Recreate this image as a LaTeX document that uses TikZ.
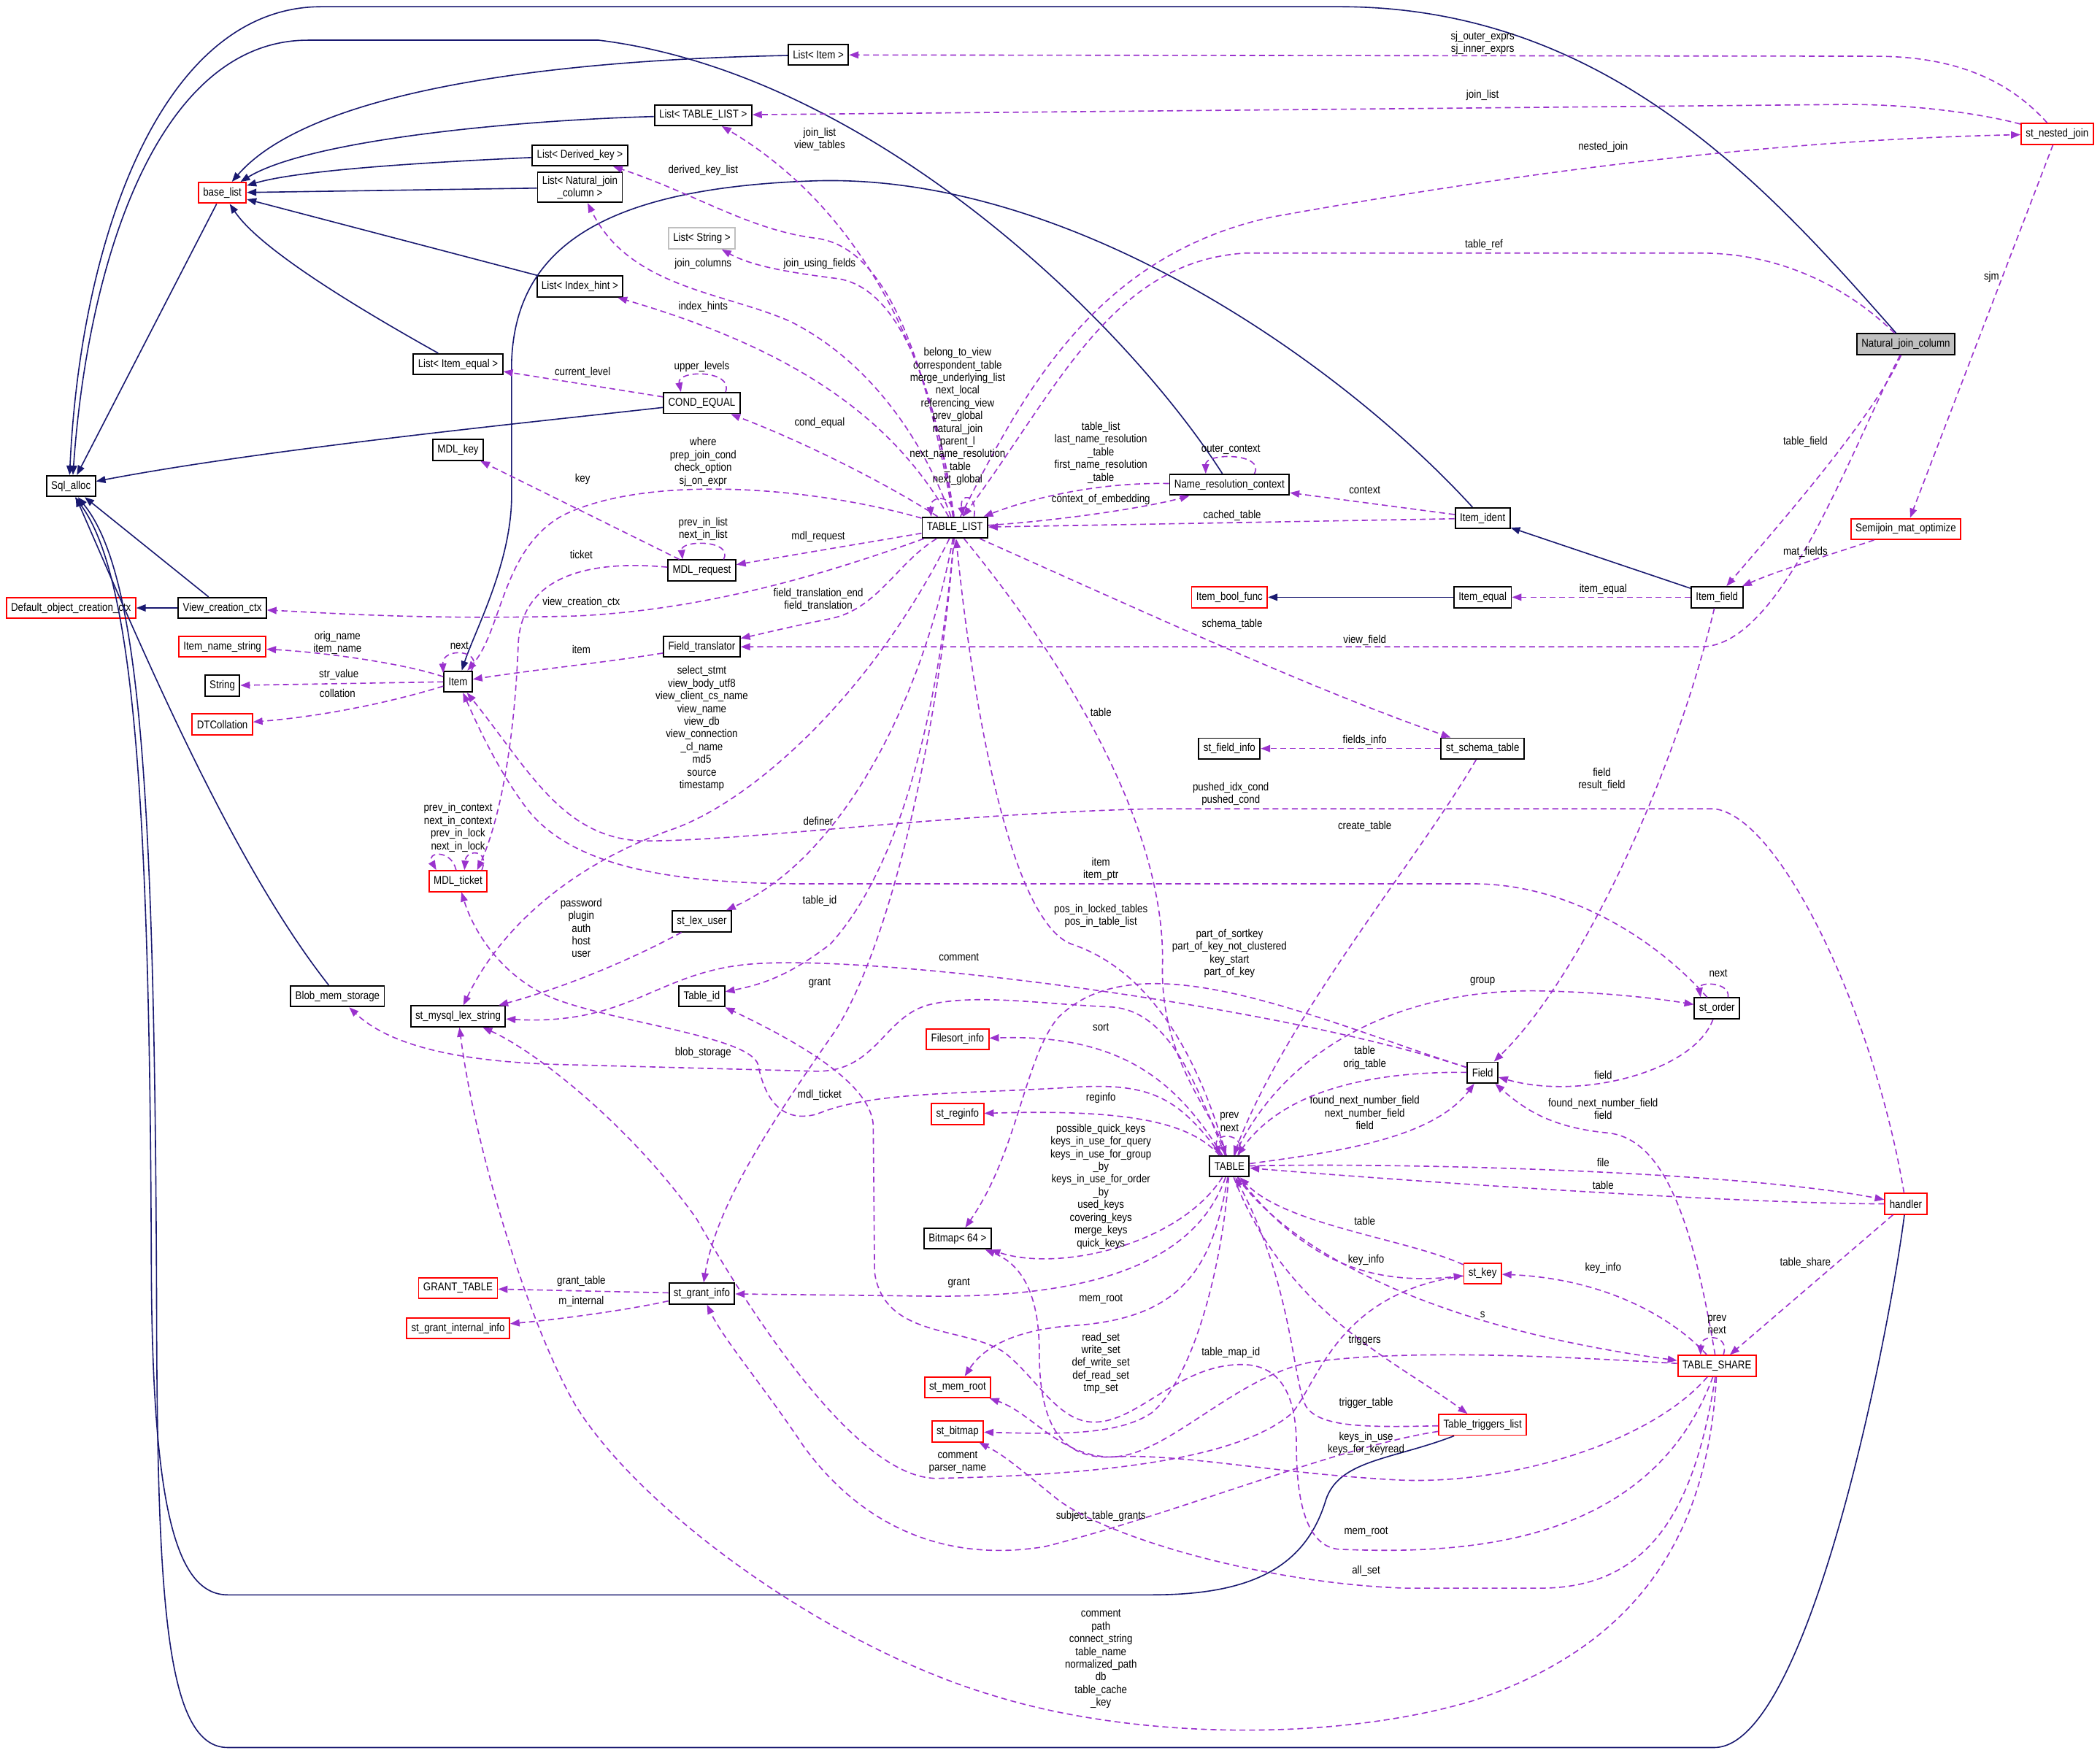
\documentclass[tikz,border=0pt]{standalone}
\usepackage{fontspec}
\setmainfont{Liberation Sans}[FakeStretch=0.86]
\usepackage{tikz}
\usetikzlibrary{arrows.meta}
\definecolor{usagepurple}{RGB}{154,50,205}
\definecolor{inheritblue}{RGB}{25,25,112}
\definecolor{undocred}{RGB}{255,0,0}
\definecolor{grayedge}{RGB}{191,191,191}
\tikzset{
  classbox/.style={rectangle, draw=black, line width=0.6pt, fill=white,
    inner xsep=0.07cm, inner ysep=0pt, minimum height=0.31cm,
    font=\fontsize{4.8}{5.4}\selectfont},
  undocbox/.style={classbox, draw=undocred},
  grayedbox/.style={classbox, draw=grayedge},
  focusbox/.style={classbox, fill=grayedge},
  inherit/.style={draw=inheritblue, line width=0.5pt,
    -{Triangle[length=4pt,width=3pt]}},
  usage/.style={draw=usagepurple, line width=0.5pt,
    dash pattern=on 2.5pt off 1.6pt, -{Triangle[length=4pt,width=3pt]}},
  lbl/.style={align=center, inner sep=0pt, font=\fontsize{4.8}{5.4}\selectfont}
}

\begin{document}
\begin{tikzpicture}[x=0.02cm, y=-0.02cm]
\useasboundingbox (0,0) rectangle (1568,1309);

\node (sqlalloc)  [classbox]  at (53,363)   {Sql\_alloc};
\node (baselist)  [undocbox]  at (166,144)  {base\_list};
\node (listitem)  [classbox]  at (611,41)   {List< Item >};
\node (listtl)    [classbox]  at (525,86)   {List< TABLE\_LIST >};
\node (listdk)    [classbox]  at (433,116)  {List< Derived\_key >};
\node (listnjc)   [classbox, align=center, inner ysep=0.05cm] at (433,140) {List< Natural\_join\\\_column >};
\node (liststr)   [grayedbox] at (524,178)  {List< String >};
\node (listih)    [classbox]  at (433,214)  {List< Index\_hint >};
\node (listie)    [classbox]  at (342,272)  {List< Item\_equal >};
\node (condeq)    [classbox]  at (524,301)  {COND\_EQUAL};
\node (mdlkey)    [classbox]  at (342,336)  {MDL\_key};
\node (mdlreq)    [classbox]  at (524,426)  {MDL\_request};
\node (tablelist) [classbox]  at (713,394)  {TABLE\_LIST};
\node (nrc)       [classbox]  at (918,362)  {Name\_resolution\_context};
\node (itemident) [classbox]  at (1107,387) {Item\_ident};
\node (njc)       [focusbox]  at (1423,257) {Natural\_join\_column};
\node (nestjoin)  [undocbox]  at (1536,100) {st\_nested\_join};
\node (sjmat)     [undocbox]  at (1423,395) {Semijoin\_mat\_optimize};
\node (itemfield) [classbox]  at (1282,446) {Item\_field};
\node (itemequal) [classbox]  at (1107,446) {Item\_equal};
\node (boolfunc)  [undocbox]  at (918,446)  {Item\_bool\_func};
\node (ftrans)    [classbox]  at (524,483)  {Field\_translator};
\node (item)      [classbox]  at (342,509)  {Item};
\node (namestr)   [undocbox]  at (166,483)  {Item\_name\_string};
\node (string)    [classbox]  at (166,512)  {String};
\node (dtcoll)    [undocbox]  at (166,541)  {DTCollation};
\node (defctx)    [undocbox]  at (53,454)   {Default\_object\_creation\_ctx};
\node (viewctx)   [classbox]  at (166,454)  {View\_creation\_ctx};
\node (mdlticket) [undocbox]  at (342,658)  {MDL\_ticket};
\node (lexuser)   [classbox]  at (524,688)  {st\_lex\_user};
\node (blobmem)   [classbox]  at (252,744)  {Blob\_mem\_storage};
\node (lexstr)    [classbox]  at (342,759)  {st\_mysql\_lex\_string};
\node (tableid)   [classbox]  at (524,744)  {Table\_id};
\node (fieldinfo) [classbox]  at (918,559)  {st\_field\_info};
\node (schema)    [classbox]  at (1107,559) {st\_schema\_table};
\node (filesort)  [undocbox]  at (715,776)  {Filesort\_info};
\node (reginfo)   [undocbox]  at (715,832)  {st\_reginfo};
\node (field)     [classbox]  at (1107,801) {Field};
\node (order)     [classbox]  at (1282,753) {st\_order};
\node (table)     [classbox]  at (918,871)  {TABLE};
\node (bitmap)    [classbox]  at (715,925)  {Bitmap< 64 >};
\node (handler)   [undocbox]  at (1423,899) {handler};
\node (key)       [undocbox]  at (1107,951) {st\_key};
\node (share)     [undocbox]  at (1282,1020) {TABLE\_SHARE};
\node (granttab)  [undocbox]  at (342,962)  {GRANT\_TABLE};
\node (grantinfo) [classbox]  at (524,966)  {st\_grant\_info};
\node (grantint)  [undocbox]  at (342,992)  {st\_grant\_internal\_info};
\node (memroot)   [undocbox]  at (715,1036) {st\_mem\_root};
\node (stbitmap)  [undocbox]  at (715,1069) {st\_bitmap};
\node (triggers)  [undocbox]  at (1107,1064) {Table\_triggers\_list};

\draw[inherit] (baselist) -- (sqlalloc.62);
\draw[inherit] (listitem) .. controls (400,45) and (230,70) .. (baselist);
\draw[inherit] (listtl) .. controls (380,90) and (230,105) .. (baselist);
\draw[inherit] (listdk) .. controls (300,122) and (220,128) .. (baselist);
\draw[inherit] (listnjc) -- (baselist);
\draw[inherit] (listih) -- (baselist);
\draw[inherit] (listie) .. controls (240,215) and (190,180) .. (baselist);
\draw[inherit] (condeq) .. controls (400,315) and (200,335) .. (sqlalloc);
\draw[inherit] (viewctx) -- (sqlalloc);
\draw[inherit] (viewctx) -- (defctx);
\draw[inherit] (blobmem) .. controls (170,640) and (100,470) .. (sqlalloc);
\draw[inherit] (njc) .. controls (1320,140) and (1200,5) .. (1000,5) -- (240,5)
  .. controls (120,5) and (60,180) .. (sqlalloc.97);
\draw[inherit] (nrc) .. controls (840,240) and (650,55) .. (447,30) -- (230,30)
  .. controls (120,30) and (66,190) .. (sqlalloc.80);
\draw[inherit] (itemident) .. controls (1000,270) and (800,130) .. (610,135)
  .. controls (450,140) and (385,185) .. (382,270) -- (382,370)
  .. controls (382,420) and (355,470) .. (item);
\draw[inherit] (itemfield) -- (itemident);
\draw[inherit] (itemequal) -- (boolfunc);
\draw[inherit] (triggers) .. controls (1040,1090) and (1000,1090) .. (990,1120)
  .. controls (975,1170) and (935,1191) .. (860,1191) -- (170,1191)
  .. controls (130,1191) and (114,1120) .. (113,950)
  .. controls (112,600) and (100,430) .. (sqlalloc.-70);
\draw[inherit] (handler) .. controls (1410,1000) and (1350,1305) .. (1280,1305) -- (170,1305)
  .. controls (125,1305) and (118,1200) .. (117,1000)
  .. controls (116,600) and (106,430) .. (sqlalloc.-58);

\draw[usage] (tablelist) .. controls (700,280) and (650,160) .. (listtl)
  node[lbl] at (612,104) {join\_list\\view\_tables};
\draw[usage] (tablelist) .. controls (690,260) and (660,185) .. (610,178)
  .. controls (560,172) and (520,145) .. (listdk)
  node[lbl] at (525,127) {derived\_key\_list};
\draw[usage] (tablelist) .. controls (690,330) and (650,270) .. (590,240)
  .. controls (540,218) and (470,215) .. (listnjc)
  node[lbl] at (525,197) {join\_columns};
\draw[usage] (tablelist) .. controls (700,300) and (675,215) .. (625,208)
  .. controls (585,203) and (560,198) .. (liststr)
  node[lbl] at (612,197) {join\_using\_fields};
\draw[usage] (tablelist) .. controls (665,310) and (590,260) .. (listih)
  node[lbl] at (525,229) {index\_hints};
\draw[usage] (tablelist) .. controls (660,360) and (600,330) .. (condeq)
  node[lbl] at (612,316) {cond\_equal};
\draw[usage] (condeq.25) .. controls (548,276) and (505,276) .. (condeq.152)
  node[lbl] at (524,274) {upper\_levels};
\draw[usage] (condeq) -- (listie)
  node[lbl] at (435,278) {current\_level};
\draw[usage] (tablelist) .. controls (600,362) and (480,355) .. (420,385)
  .. controls (375,410) and (375,470) .. (item)
  node[lbl] at (525,345) {where\\prep\_join\_cond\\check\_option\\sj\_on\_expr};
\draw[usage] (tablelist) -- (mdlreq)
  node[lbl] at (611,401) {mdl\_request};
\draw[usage] (mdlreq.27) .. controls (548,403) and (508,403) .. (mdlreq.150)
  node[lbl] at (525,395) {prev\_in\_list\\next\_in\_list};
\draw[usage] (mdlreq) -- (mdlkey)
  node[lbl] at (435,358) {key};
\draw[usage] (mdlreq) .. controls (440,418) and (390,430) .. (387,480)
  .. controls (384,560) and (372,615) .. (mdlticket.30)
  node[lbl] at (434,414) {ticket};
\draw[usage] (mdlticket.100) .. controls (337,634) and (318,636) .. (mdlticket.153);
\draw[usage] (mdlticket.25) .. controls (366,634) and (348,634) .. (mdlticket.60)
  node[lbl] at (342,618) {prev\_in\_context\\next\_in\_context\\prev\_in\_lock\\next\_in\_lock};
\draw[usage] (table) .. controls (880,820) and (860,808) .. (800,812)
  .. controls (720,817) and (650,815) .. (610,832)
  .. controls (580,840) and (570,815) .. (566,795)
  .. controls (560,775) and (470,765) .. (420,748)
  .. controls (380,735) and (355,700) .. (mdlticket)
  node[lbl] at (612,818) {mdl\_ticket};
\draw[usage] (tablelist) .. controls (640,420) and (540,455) .. (430,460)
  .. controls (320,463) and (250,458) .. (viewctx)
  node[lbl] at (434,450) {view\_creation\_ctx};
\draw[usage] (tablelist) .. controls (670,420) and (655,455) .. (620,462)
  .. controls (590,468) and (570,473) .. (ftrans)
  node[lbl] at (611,448) {field\_translation\_end\\field\_translation};
\draw[usage] (njc) .. controls (1380,340) and (1330,483) .. (1270,483) -- (ftrans)
  node[lbl] at (1019,478) {view\_field};
\draw[usage] (njc) .. controls (1380,215) and (1330,189) .. (1270,189) -- (930,189)
  .. controls (830,195) and (790,290) .. (tablelist)
  node[lbl] at (1108,183) {table\_ref};
\draw[usage] (tablelist) .. controls (765,290) and (820,190) .. (950,162)
  .. controls (1100,135) and (1300,105) .. (nestjoin)
  node[lbl] at (1197,110) {nested\_join};
\draw[usage] (nestjoin) .. controls (1500,60) and (1460,42) .. (1400,42) -- (listitem)
  node[lbl] at (1107,32) {sj\_outer\_exprs\\sj\_inner\_exprs};
\draw[usage] (nestjoin) .. controls (1480,85) and (1430,78) .. (1380,78) -- (listtl)
  node[lbl] at (1107,71) {join\_list};
\draw[usage] (nestjoin) -- (sjmat)
  node[lbl] at (1487,207) {sjm};
\draw[usage] (sjmat) .. controls (1380,410) and (1330,425) .. (itemfield)
  node[lbl] at (1348,412) {mat\_fields};
\draw[usage] (njc) .. controls (1400,310) and (1330,390) .. (itemfield)
  node[lbl] at (1348,330) {table\_field};
\draw[usage] (itemfield) -- (itemequal)
  node[lbl] at (1197,440) {item\_equal};
\draw[usage] (itemfield) .. controls (1250,580) and (1180,730) .. (field)
  node[lbl] at (1196,582) {field\\result\_field};
\draw[usage] (itemident) -- (tablelist)
  node[lbl] at (920,385) {cached\_table};
\draw[usage] (itemident) -- (nrc)
  node[lbl] at (1019,366) {context};
\draw[usage] (nrc.24) .. controls (945,338) and (900,338) .. (nrc.155)
  node[lbl] at (919,336) {outer\_context};
\draw[usage] (nrc) .. controls (820,360) and (770,372) .. (tablelist)
  node[lbl] at (822,338) {table\_list\\last\_name\_resolution\\\_table\\first\_name\_resolution\\\_table};
\draw[usage] (tablelist) .. controls (800,388) and (860,378) .. (nrc)
  node[lbl] at (822,373) {context\_of\_embedding};
\draw[usage] (tablelist.95) .. controls (712,368) and (694,370) .. (tablelist.155);
\draw[usage] (tablelist.30) .. controls (730,368) and (716,368) .. (tablelist.53)
  node[lbl] at (715,311) {belong\_to\_view\\correspondent\_table\\merge\_underlying\_list\\next\_local\\referencing\_view\\prev\_global\\natural\_join\\parent\_l\\next\_name\_resolution\\\_table\\next\_global};
\draw[usage] (tablelist) .. controls (850,455) and (980,515) .. (schema)
  node[lbl] at (920,466) {schema\_table};
\draw[usage] (schema) -- (fieldinfo)
  node[lbl] at (1019,553) {fields\_info};
\draw[usage] (schema) .. controls (1060,640) and (960,760) .. (table)
  node[lbl] at (1019,617) {create\_table};
\draw[usage] (tablelist) .. controls (800,500) and (870,620) .. (868,720)
  .. controls (866,790) and (905,830) .. (table)
  node[lbl] at (822,532) {table};
\draw[usage] (table) .. controls (895,790) and (860,725) .. (800,705)
  .. controls (760,690) and (730,560) .. (tablelist)
  node[lbl] at (822,684) {pos\_in\_locked\_tables\\pos\_in\_table\_list};
\draw[usage] (tablelist) .. controls (650,520) and (560,600) .. (500,620)
  .. controls (430,645) and (375,690) .. (lexstr)
  node[lbl] at (524,544) {select\_stmt\\view\_body\_utf8\\view\_client\_cs\_name\\view\_name\\view\_db\\view\_connection\\\_cl\_name\\md5\\source\\timestamp};
\draw[usage] (tablelist) .. controls (690,520) and (630,640) .. (lexuser)
  node[lbl] at (611,613) {definer};
\draw[usage] (tablelist) .. controls (700,540) and (670,650) .. (620,705)
  .. controls (590,728) and (570,735) .. (tableid)
  node[lbl] at (612,673) {table\_id};
\draw[usage] (tablelist) .. controls (700,560) and (660,720) .. (620,775)
  .. controls (575,840) and (535,900) .. (grantinfo)
  node[lbl] at (612,734) {grant};
\draw[usage] (field) .. controls (950,750) and (650,712) .. (560,720)
  .. controls (490,726) and (470,766) .. (lexstr)
  node[lbl] at (716,715) {comment};
\draw[usage] (field) .. controls (980,760) and (850,700) .. (790,760)
  .. controls (765,790) and (760,860) .. (bitmap)
  node[lbl] at (918,712) {part\_of\_sortkey\\part\_of\_key\_not\_clustered\\key\_start\\part\_of\_key};
\draw[usage] (table) .. controls (880,810) and (840,772) .. (filesort)
  node[lbl] at (822,767) {sort};
\draw[usage] (table) .. controls (890,840) and (850,828) .. (reginfo)
  node[lbl] at (822,820) {reginfo};
\draw[usage] (table.50) .. controls (932,845) and (904,845) .. (table.130)
  node[lbl] at (918,838) {prev\\next};
\draw[usage] (table) .. controls (880,930) and (790,950) .. (bitmap)
  node[lbl] at (822,886) {possible\_quick\_keys\\keys\_in\_use\_for\_query\\keys\_in\_use\_for\_group\\\_by\\keys\_in\_use\_for\_order\\\_by\\used\_keys\\covering\_keys\\merge\_keys\\quick\_keys};
\draw[usage] (table) .. controls (890,950) and (800,968) .. (700,968) -- (grantinfo)
  node[lbl] at (716,958) {grant};
\draw[usage] (table) .. controls (905,950) and (880,985) .. (800,990)
  .. controls (760,993) and (735,1005) .. (memroot)
  node[lbl] at (822,970) {mem\_root};
\draw[usage] (table) .. controls (912,950) and (890,1030) .. (860,1055)
  .. controls (835,1072) and (790,1071) .. (stbitmap)
  node[lbl] at (822,1018) {read\_set\\write\_set\\def\_write\_set\\def\_read\_set\\tmp\_set};
\draw[usage] (table) .. controls (1050,868) and (1300,875) .. (handler)
  node[lbl] at (1197,868) {file};
\draw[usage] (handler) .. controls (1300,899) and (1050,882) .. (table)
  node[lbl] at (1197,885) {table};
\draw[usage] (table) .. controls (960,780) and (1050,738) .. (1150,740)
  .. controls (1200,741) and (1240,746) .. (order)
  node[lbl] at (1107,733) {group};
\draw[usage] (order.45) .. controls (1292,733) and (1268,733) .. (order.146)
  node[lbl] at (1283,727) {next};
\draw[usage] (order) .. controls (1265,800) and (1180,822) .. (field)
  node[lbl] at (1197,803) {field};
\draw[usage] (order) .. controls (1235,700) and (1170,660) .. (1100,660) -- (600,660)
  .. controls (480,660) and (420,640) .. (392,602)
  .. controls (372,575) and (358,545) .. (item)
  node[lbl] at (822,649) {item\\item\_ptr};
\draw[usage] (handler) .. controls (1400,760) and (1330,610) .. (1280,604) -- (860,604)
  .. controls (700,608) and (560,628) .. (480,628)
  .. controls (420,626) and (395,575) .. (item)
  node[lbl] at (919,593) {pushed\_idx\_cond\\pushed\_cond};
\draw[usage] (table) .. controls (1000,860) and (1070,850) .. (field)
  node[lbl] at (1019,831) {found\_next\_number\_field\\next\_number\_field\\field};
\draw[usage] (field) .. controls (1030,800) and (960,812) .. (table)
  node[lbl] at (1019,790) {table\\orig\_table};
\draw[usage] (share) .. controls (1265,920) and (1245,850) .. (1200,846)
  .. controls (1160,842) and (1140,830) .. (field)
  node[lbl] at (1197,828) {found\_next\_number\_field\\field};
\draw[usage] (share.60) .. controls (1292,996) and (1270,996) .. (share.146)
  node[lbl] at (1282,989) {prev\\next};
\draw[usage] (share) .. controls (1250,985) and (1200,955) .. (key)
  node[lbl] at (1197,947) {key\_info};
\draw[usage] (handler) -- (share)
  node[lbl] at (1348,943) {table\_share};
\draw[usage] (table) .. controls (960,930) and (1060,990) .. (share)
  node[lbl] at (1107,982) {s};
\draw[usage] (table) .. controls (965,930) and (1010,962) .. (key)
  node[lbl] at (1020,941) {key\_info};
\draw[usage] (key) .. controls (1050,925) and (960,915) .. (table)
  node[lbl] at (1019,912) {table};
\draw[usage] (table) .. controls (960,980) and (1040,1015) .. (triggers)
  node[lbl] at (1019,1001) {triggers};
\draw[usage] (triggers) .. controls (1020,1066) and (985,1066) .. (975,1050)
  .. controls (965,1030) and (965,960) .. (table)
  node[lbl] at (1020,1048) {trigger\_table};
\draw[usage] (table) .. controls (890,800) and (870,755) .. (830,752)
  .. controls (780,750) and (730,742) .. (695,750)
  .. controls (660,758) and (655,800) .. (610,800) -- (420,795)
  .. controls (340,793) and (290,780) .. (blobmem)
  node[lbl] at (525,786) {blob\_storage};
\draw[usage] (key) .. controls (1000,965) and (985,1030) .. (965,1055)
  .. controls (920,1095) and (790,1102) .. (700,1104)
  .. controls (640,1105) and (560,980) .. (520,910)
  .. controls (470,840) and (400,785) .. (lexstr)
  node[lbl] at (715,1092) {comment\\parser\_name};
\draw[usage] (lexuser) .. controls (480,712) and (430,735) .. (lexstr)
  node[lbl] at (434,693) {password\\plugin\\auth\\host\\user};
\draw[usage] (grantinfo) -- (granttab)
  node[lbl] at (434,957) {grant\_table};
\draw[usage] (grantinfo) .. controls (470,978) and (420,985) .. (grantint)
  node[lbl] at (434,972) {m\_internal};
\draw[usage] (triggers) .. controls (1000,1080) and (880,1130) .. (780,1155)
  .. controls (700,1168) and (640,1135) .. (600,1080)
  .. controls (570,1035) and (540,1000) .. (grantinfo)
  node[lbl] at (822,1132) {subject\_table\_grants};
\draw[usage] (share) .. controls (1230,1160) and (1080,1160) .. (1000,1157)
  .. controls (975,1155) and (968,1120) .. (968,1080)
  .. controls (968,1040) and (955,1019) .. (927,1019)
  .. controls (880,1019) and (850,1062) .. (817,1062)
  .. controls (790,1062) and (775,1030) .. (750,1010)
  .. controls (720,990) and (660,1000) .. (653,950) -- (652,840)
  .. controls (650,810) and (600,780) .. (tableid)
  node[lbl] at (919,1010) {table\_map\_id};
\draw[usage] (share) .. controls (1230,1080) and (1120,1110) .. (1040,1105)
  .. controls (950,1100) and (880,1085) .. (830,1088)
  .. controls (790,1090) and (776,1060) .. (776,1010)
  .. controls (776,970) and (765,945) .. (bitmap)
  node[lbl] at (1020,1078) {keys\_in\_use\\keys\_for\_keyread};
\draw[usage] (share) .. controls (1150,1012) and (1050,1008) .. (980,1017)
  .. controls (920,1028) and (870,1090) .. (827,1088)
  .. controls (790,1086) and (770,1055) .. (memroot)
  node[lbl] at (1020,1144) {mem\_root};
\draw[usage] (share) .. controls (1265,1130) and (1230,1186) .. (1150,1186) -- (1050,1186)
  .. controls (950,1183) and (830,1150) .. (790,1120)
  .. controls (765,1100) and (752,1088) .. (stbitmap)
  node[lbl] at (1020,1173) {all\_set};
\draw[usage] (share) .. controls (1275,1150) and (1220,1230) .. (1100,1270)
  .. controls (1000,1300) and (850,1300) .. (741,1266)
  .. controls (620,1230) and (480,1130) .. (430,1050)
  .. controls (395,990) and (355,860) .. (lexstr)
  node[lbl] at (822,1239) {comment\\path\\connect\_string\\table\_name\\normalized\_path\\db\\table\_cache\\\_key};
\draw[usage] (ftrans) .. controls (450,495) and (400,500) .. (item)
  node[lbl] at (434,485) {item};
\draw[usage] (item) .. controls (300,495) and (240,487) .. (namestr)
  node[lbl] at (252,480) {orig\_name\\item\_name};
\draw[usage] (item) -- (string)
  node[lbl] at (253,504) {str\_value};
\draw[usage] (item) .. controls (290,525) and (240,535) .. (dtcoll)
  node[lbl] at (252,518) {collation};
\draw[usage] (item.40) .. controls (362,485) and (330,483) .. (item.150)
  node[lbl] at (343,482) {next};
\end{tikzpicture}
\end{document}
